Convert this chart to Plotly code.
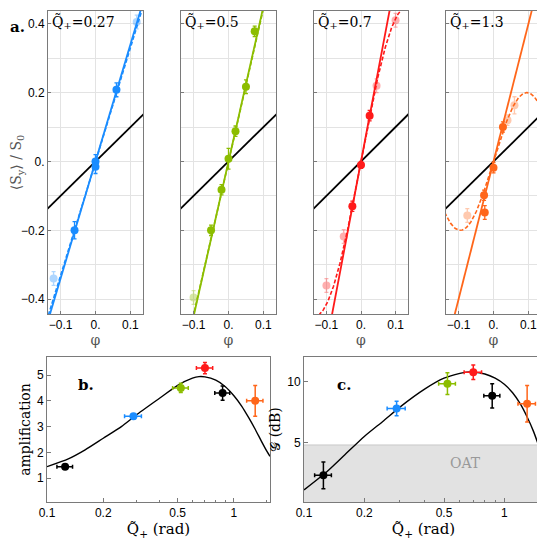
import numpy as np
import plotly.graph_objects as go

# ---- panel a data ----
panel_q = ["0.27", "0.5", "0.7", "1.3"]
panel_colors = ["#1a8cff", "#8cbd00", "#ff1a1a", "#ff661a"]
panel_slopes = [3.4, 4.5, 5.3, 4.0]
# dashed fit: y = amp * sin(k*phi) / k
dash_amp = [3.35, 4.5, 5.3, 3.3]
dash_k = [2.0, 2.0, 11.8, 16.5]

phi_pts = [
    [-0.12, -0.06, 0.0, 0.0, 0.06, 0.118],
    [-0.1, -0.05, -0.02, 0.0, 0.02, 0.05, 0.075],
    [-0.1, -0.05, -0.025, 0.0, 0.025, 0.045, 0.1],
    [-0.075, -0.027, -0.025, 0.0, 0.027, 0.04, 0.06],
]
sy_pts = [
    [-0.34, -0.2, 0.0, -0.015, 0.208, 0.405],
    [-0.395, -0.2, -0.082, 0.008, 0.088, 0.217, 0.378],
    [-0.36, -0.218, -0.13, -0.01, 0.133, 0.22, 0.41],
    [-0.157, -0.098, -0.148, -0.018, 0.1, 0.12, 0.163],
]
sy_err = [
    [0.02, 0.025, 0.02, 0.02, 0.02, 0.02],
    [0.02, 0.015, 0.015, 0.03, 0.015, 0.02, 0.015],
    [0.02, 0.02, 0.015, 0.01, 0.015, 0.02, 0.02],
    [0.02, 0.015, 0.02, 0.015, 0.015, 0.015, 0.025],
]
faded = [
    [True, False, False, False, False, True],
    [True, False, False, False, False, False, False],
    [True, True, False, False, False, True, True],
    [True, False, False, False, False, True, True],
]

# ---- panels b, c data ----
q_meas = [0.125, 0.29, 0.52, 0.7, 0.87, 1.3]
q_err = [0.012, 0.03, 0.05, 0.07, 0.08, 0.13]
meas_colors = ["black", "#1a8cff", "#8cbd00", "#ff1a1a", "black", "#ff661a"]
amp_meas = [1.45, 3.4, 4.5, 5.27, 4.3, 4.0]
amp_err = [0.08, 0.1, 0.18, 0.22, 0.28, 0.6]
gain_meas = [2.3, 7.8, 9.85, 10.8, 8.85, 8.2]
gain_err = [1.1, 0.6, 0.9, 0.6, 1.0, 1.5]

q_theory = [0.1, 0.13, 0.16, 0.2, 0.25, 0.3, 0.4, 0.5, 0.6, 0.65, 0.7, 0.8, 0.9, 1.0, 1.1, 1.2, 1.3, 1.4, 1.5, 1.56]
amp_theory = [1.45, 1.75, 2.1, 2.55, 3.0, 3.45, 4.1, 4.6, 4.88, 4.94, 4.93, 4.8, 4.55, 4.2, 3.8, 3.35, 2.9, 2.45, 2.05, 1.85]
gain_theory = [1.1, 2.6, 4.0, 5.5, 6.8, 7.9, 9.4, 10.3, 10.7, 10.8, 10.8, 10.65, 10.3, 9.8, 9.1, 8.2, 7.1, 5.9, 4.5, 3.6]
oat_limit = 4.8

top_dom = [[40, 135], [173, 268], [306, 400], [438, 533]]
W = 545.0
TOP_Y = [3, 306]
BOT_Y = [349, 494]

fig = go.Figure()
lay = {}
light_grid = "#e3e3e3"
frame = "#7a7a7a"
tick_font = dict(family="Liberation Sans, Arial", size=12, color="black")

for i in range(4):
    n = "" if i == 0 else str(i + 1)
    xa, ya = "x" + n, "y" + n
    c = panel_colors[i]
    line_phi = np.linspace(-0.14, 0.14, 200)
    fig.add_trace(go.Scatter(x=line_phi, y=line_phi, mode="lines", line=dict(color="black", width=1.8),
                             xaxis=xa, yaxis=ya, showlegend=False))
    fig.add_trace(go.Scatter(x=line_phi, y=panel_slopes[i] * line_phi, mode="lines", line=dict(color=c, width=1.8),
                             xaxis=xa, yaxis=ya, showlegend=False))
    dash_y = dash_amp[i] * np.sin(dash_k[i] * line_phi) / dash_k[i]
    fig.add_trace(go.Scatter(x=line_phi, y=dash_y, mode="lines", line=dict(color=c, width=1.6, dash="4px,2px"),
                             xaxis=xa, yaxis=ya, showlegend=False))
    for fade in (True, False):
        xs = [p for p, f in zip(phi_pts[i], faded[i]) if f == fade]
        ys = [p for p, f in zip(sy_pts[i], faded[i]) if f == fade]
        es = [p for p, f in zip(sy_err[i], faded[i]) if f == fade]
        fig.add_trace(go.Scatter(x=xs, y=ys, mode="markers", opacity=0.35 if fade else 1,
                                 marker=dict(color=c, size=8),
                                 error_y=dict(type="data", array=es, color=c, thickness=1.3, width=2),
                                 xaxis=xa, yaxis=ya, showlegend=False))
    d = top_dom[i]
    lay["xaxis" + n] = dict(domain=[d[0] / W, d[1] / W], range=[-0.136, 0.136], anchor=ya, automargin=False,
                            tickvals=[-0.1, 0, 0.1], ticktext=["\u22120.1", "0.", "0.1"],
                            showgrid=True, gridcolor=light_grid, zeroline=False,
                            showline=True, mirror=True, linecolor=frame, ticks="inside", ticklen=3,
                            tickcolor=frame, tickfont=tick_font,
                            title=dict(text="\u03c6", font=dict(family="DejaVu Serif", size=14, color="#555"), standoff=2))
    lay["yaxis" + n] = dict(domain=[1 - TOP_Y[1] / W, 1 - TOP_Y[0] / W], range=[-0.443, 0.437], anchor=xa,
                            automargin=False, tickvals=[-0.4, -0.2, 0, 0.2, 0.4],
                            ticktext=["\u22120.4", "\u22120.2", "0.", "0.2", "0.4"] if i == 0 else [""] * 5,
                            showgrid=True, gridcolor=light_grid, zeroline=False,
                            minor=dict(dtick=0.1, showgrid=True, gridcolor=light_grid, ticks=""),
                            showline=True, mirror=True, linecolor=frame, ticks="inside", ticklen=3,
                            tickcolor=frame, tickfont=tick_font)
    fig.add_annotation(xref=xa + " domain", yref=ya + " domain", x=0.02, y=1.0, xanchor="left", yanchor="top",
                       text="Q\u0303<sub>+</sub>=" + panel_q[i], showarrow=False,
                       font=dict(family="DejaVu Serif", size=14, color="black"))

lay["yaxis"]["title"] = dict(text="\u27e8S<sub>y</sub>\u27e9 / S<sub>0</sub>",
                             font=dict(family="DejaVu Serif", size=14, color="#555"), standoff=4)

# bottom panels
for j, (n, meas, err, theo, dom, yr) in enumerate([
        ("5", amp_meas, amp_err, amp_theory, [39, 262], [0.08, 5.7]),
        ("6", gain_meas, gain_err, gain_theory, [296, 535], [0.1, 12.05])]):
    xa, ya = "x" + n, "y" + n
    if j == 1:
        fig.add_trace(go.Scatter(x=[0.1, 1.56, 1.56, 0.1], y=[0.1, 0.1, oat_limit, oat_limit], fill="toself",
                                 fillcolor="#e2e2e2", line=dict(width=0), mode="lines",
                                 xaxis=xa, yaxis=ya, showlegend=False))
        fig.add_trace(go.Scatter(x=[0.1, 1.56], y=[oat_limit, oat_limit], mode="lines",
                                 line=dict(color="#c8c8c8", width=1), xaxis=xa, yaxis=ya, showlegend=False))
    fig.add_trace(go.Scatter(x=q_theory, y=theo, mode="lines", line=dict(color="black", width=1.4, shape="spline", smoothing=0.6),
                             xaxis=xa, yaxis=ya, showlegend=False))
    for k in range(len(q_meas)):
        fig.add_trace(go.Scatter(x=[q_meas[k]], y=[meas[k]], mode="markers",
                                 marker=dict(color=meas_colors[k], size=8),
                                 error_x=dict(type="data", array=[q_err[k]], color=meas_colors[k], thickness=1.5, width=2),
                                 error_y=dict(type="data", array=[err[k]], color=meas_colors[k], thickness=1.5, width=2),
                                 xaxis=xa, yaxis=ya, showlegend=False))
    lay["xaxis" + n] = dict(domain=[dom[0] / W, dom[1] / W], type="log", range=[-1, np.log10(1.56)], anchor=ya,
                            automargin=False, tickvals=[0.1, 0.2, 0.5, 1], ticktext=["0.1", "0.2", "0.5", "1"],
                            minor=dict(tickvals=[0.3, 0.4, 0.6, 0.7, 0.8, 0.9, 1.5], ticks="inside", ticklen=2, tickcolor=frame),
                            showgrid=False, zeroline=False, showline=True, mirror=True, linecolor=frame,
                            ticks="inside", ticklen=4, tickcolor=frame, tickfont=tick_font,
                            title=dict(text="Q\u0303<sub>+</sub> (rad)", font=dict(family="DejaVu Serif", size=15, color="black"), standoff=2))
    lay["yaxis" + n] = dict(domain=[1 - BOT_Y[1] / W, 1 - BOT_Y[0] / W], range=yr, anchor=xa, automargin=False,
                            showgrid=False, zeroline=False, showline=True, mirror=True, linecolor=frame,
                            ticks="inside", ticklen=4, tickcolor=frame, tickfont=tick_font,
                            title=dict(text="amplification" if j == 0 else "\U0001D4A2 (dB)",
                                       font=dict(family="DejaVu Serif", size=14, color="black"), standoff=3))
lay["yaxis5"]["tickvals"] = [1, 2, 3, 4, 5]
lay["yaxis6"]["tickvals"] = [5, 10]

fig.add_annotation(xref="x6 domain", yref="y6 domain", x=0.75, y=0.2, text="OAT", showarrow=False,
                   font=dict(family="DejaVu Serif", size=14, color="#999"))
for txt, xr, yr_, xx, yy in [("a.", "paper", "paper", 0.0, 0.985), ("b.", "x5 domain", "y5 domain", 0.13, 0.88),
                             ("c.", "x6 domain", "y6 domain", 0.13, 0.88)]:
    fig.add_annotation(xref=xr, yref=yr_, x=xx, y=yy, text="<b>" + txt + "</b>", showarrow=False,
                       xanchor="left", font=dict(family="DejaVu Serif", size=15, color="black"))

fig.update_layout(**lay, width=545, height=545, margin=dict(l=0, r=0, t=0, b=0),
                  plot_bgcolor="white", paper_bgcolor="white")
fig.write_html("out.html")
